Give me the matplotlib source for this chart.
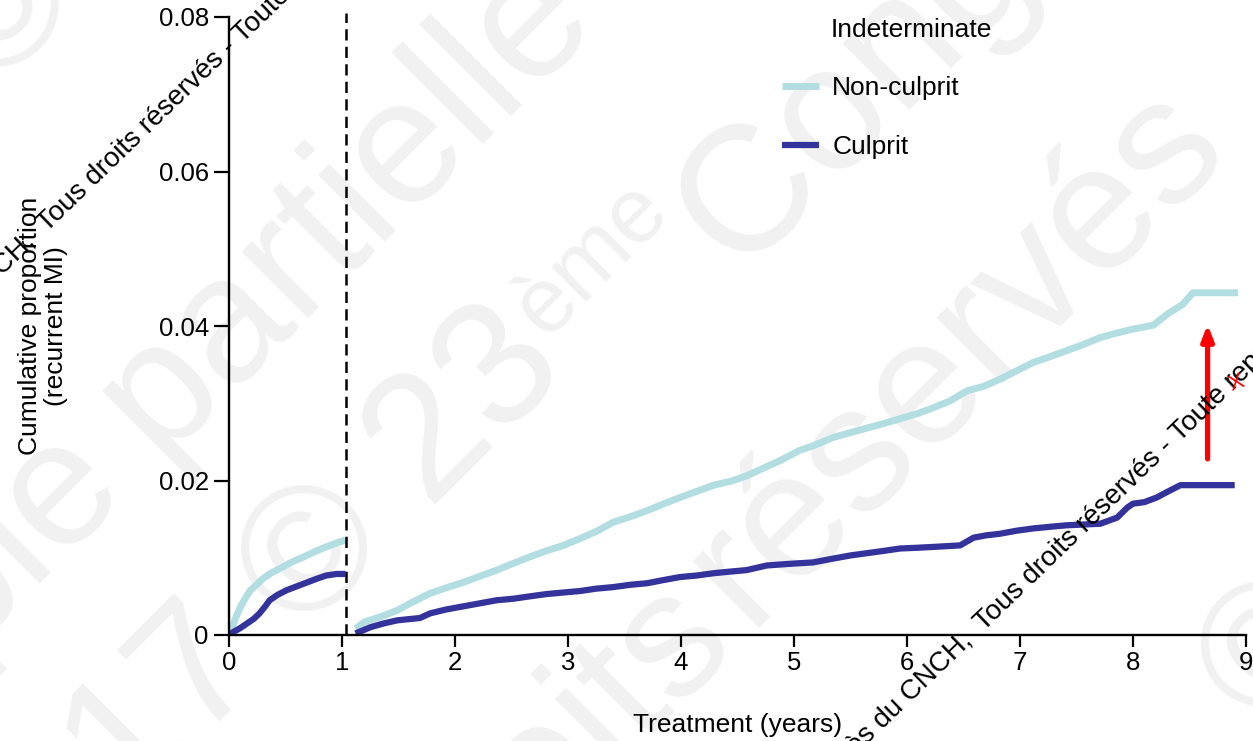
import matplotlib
matplotlib.use("Agg")
import matplotlib.pyplot as plt

# ── data ───────────────────────────────────────────────────────────────────
# first year (before the dashed line)
nc1_x = [0, 0.02, 0.05, 0.10, 0.15, 0.19, 0.25, 0.30, 0.37, 0.45, 0.55, 0.66, 0.76, 0.86, 0.95, 1.03]
nc1_y = [0, 0.0006, 0.0019, 0.0036, 0.0049, 0.0058, 0.0066, 0.0073, 0.0080, 0.0086, 0.0094,
         0.0101, 0.0108, 0.0114, 0.0119, 0.0123]
c1_x = [0, 0.04, 0.10, 0.16, 0.22, 0.27, 0.32, 0.36, 0.43, 0.51, 0.60, 0.69, 0.78, 0.86, 0.95, 1.03]
c1_y = [0, 0.0004, 0.0009, 0.0015, 0.0021, 0.0028, 0.0037, 0.0045, 0.0052, 0.0058, 0.0063,
        0.0068, 0.0073, 0.0077, 0.0079, 0.0079]

# after year one (restart from zero)
nc2_x = [1.12, 1.20, 1.35, 1.49, 1.63, 1.78, 1.92, 2.07, 2.22, 2.37, 2.52, 2.66, 2.81, 2.96,
         3.11, 3.25, 3.40, 3.55, 3.70, 3.85, 3.99, 4.14, 4.29, 4.44, 4.58, 4.73, 4.88, 5.05,
         5.17, 5.35, 5.50, 5.65, 5.80, 5.94, 6.10, 6.23, 6.38, 6.53, 6.68, 6.82, 6.97, 7.12,
         7.26, 7.41, 7.56, 7.71, 7.86, 8.00, 8.18, 8.30, 8.44, 8.53, 8.93]
nc2_y = [0.0008, 0.0017, 0.0024, 0.0032, 0.0043, 0.0054, 0.0061, 0.0068, 0.0076, 0.0084,
         0.0093, 0.0101, 0.0109, 0.0116, 0.0125, 0.0134, 0.0146, 0.0153, 0.0161, 0.0170,
         0.0178, 0.0186, 0.0194, 0.0199, 0.0206, 0.0216, 0.0226, 0.0239, 0.0245, 0.0256,
         0.0262, 0.0268, 0.0274, 0.0280, 0.0287, 0.0294, 0.0303, 0.0316, 0.0322, 0.0331,
         0.0342, 0.0353, 0.0360, 0.0368, 0.0376, 0.0385, 0.0391, 0.0396, 0.0401, 0.0415,
         0.0428, 0.0443, 0.0443]
c2_x = [1.12, 1.25, 1.37, 1.49, 1.69, 1.78, 1.92, 2.07, 2.22, 2.37, 2.52, 2.66, 2.81, 2.96,
        3.11, 3.25, 3.40, 3.55, 3.70, 3.84, 3.99, 4.14, 4.29, 4.43, 4.58, 4.76, 4.95, 5.17,
        5.35, 5.50, 5.65, 5.80, 5.94, 6.10, 6.23, 6.47, 6.59, 6.70, 6.82, 6.97, 7.12, 7.26,
        7.41, 7.56, 7.71, 7.86, 7.95, 8.00, 8.10, 8.21, 8.30, 8.42, 8.90]
c2_y = [0.0002, 0.0010, 0.0015, 0.0019, 0.0022, 0.0028, 0.0033, 0.0037, 0.0041, 0.0045,
        0.0047, 0.0050, 0.0053, 0.0055, 0.0057, 0.0060, 0.0062, 0.0065, 0.0067, 0.0071,
        0.0075, 0.0077, 0.0080, 0.0082, 0.0084, 0.0090, 0.0092, 0.0094, 0.0099, 0.0103,
        0.0106, 0.0109, 0.0112, 0.0113, 0.0114, 0.0116, 0.0126, 0.0129, 0.0131, 0.0135,
        0.0138, 0.0140, 0.0142, 0.0143, 0.0144, 0.0152, 0.0165, 0.0170, 0.0172, 0.0178,
        0.0185, 0.0194, 0.0194]

x_ticks = [0, 1, 2, 3, 4, 5, 6, 7, 8, 9]
y_ticks = [0, 0.02, 0.04, 0.06, 0.08]
y_tick_labels = ["0", "0.02", "0.04", "0.06", "0.08"]
landmark = 1.035

LIGHT = "#b2dee1"
DARK = "#33339b"
FAINT = "#f1f1f1"
W, H = 1253, 741

plt.rcParams["font.family"] = ["Liberation Sans", "DejaVu Sans"]

fig = plt.figure(figsize=(W / 100, H / 100), dpi=100)
ax = fig.add_axes([229 / W, 1 - 635 / H, 1017 / W, 618 / H])
ax.set_facecolor("none")


def px(x, y):
    return x / W, 1 - y / H


# ── faint background watermark ─────────────────────────────────────────────
wm = dict(color=FAINT, fontsize=128, rotation=45, rotation_mode="anchor",
          va="center", zorder=-5)
fig.text(*px(345, 205), "partielle", ha="center", **wm)
fig.text(*px(95, 455), "Copie", ha="right", **wm)
fig.text(*px(537, 338), "2017 © 23", ha="right", **wm)
fig.text(*px(528, 322), "ème", ha="left", color=FAINT, fontsize=66, rotation=45,
         rotation_mode="anchor", va="center", zorder=-5)
fig.text(*px(705, 240), "Congrès", ha="left", **wm)
fig.text(*px(715, 595), "réservés", ha="left", **wm)
fig.text(*px(705, 610), "droits", ha="right", **wm)
fig.text(*px(1228, 700), "©", ha="left", **wm)
fig.text(*px(-40, 60), "©", ha="left", **wm)

# ── curves ────────────────────────────────────────────────────────────────
ax.plot(nc1_x, nc1_y, color=LIGHT, lw=5, solid_capstyle="butt")
ax.plot(c1_x, c1_y, color=DARK, lw=4.5, solid_capstyle="butt")
l_nc, = ax.plot(nc2_x, nc2_y, color=LIGHT, lw=5, solid_capstyle="butt", label="Non-culprit")
l_c, = ax.plot(c2_x, c2_y, color=DARK, lw=4.5, solid_capstyle="butt", label="Culprit")

ax.plot([landmark, landmark], [0, 0.0805], color="black", lw=1.8,
        ls=(0, (4.5, 2.5)), clip_on=False)

# ── axes ──────────────────────────────────────────────────────────────────
ax.set_xlim(0, 9)
ax.set_ylim(0, 0.08)
ax.set_xticks(x_ticks)
ax.set_yticks(y_ticks)
ax.set_yticklabels(y_tick_labels)
for s in ["top", "right"]:
    ax.spines[s].set_visible(False)
for s in ["left", "bottom"]:
    ax.spines[s].set_linewidth(1.7)
ax.tick_params(axis="both", direction="out", width=1.6, labelsize=18.5)
ax.tick_params(axis="x", length=8.5, pad=3)
ax.tick_params(axis="y", length=10.5, pad=4)

ax.set_xlabel("Treatment (years)", fontsize=19)
ax.xaxis.set_label_coords(0.5, -0.126)
ax.set_ylabel("Cumulative proportion\n(recurrent MI)", fontsize=19, linespacing=1.1)
ax.yaxis.set_label_coords(-0.158, 0.5)

# legend
ax.text((831 - 229) / 1017, (635 - 30) / 618, "Indeterminate", transform=ax.transAxes,
        fontsize=19, ha="left", va="center")
ax.legend(handles=[l_nc, l_c], loc="upper left",
          bbox_to_anchor=((782 - 229) / 1017, (635 - 76) / 618),
          frameon=False, fontsize=19, handlelength=1.4, handletextpad=0.5,
          labelspacing=1.33, borderpad=0, borderaxespad=0)

# red arrow
ax.annotate("", xy=(8.66, 0.0402), xytext=(8.66, 0.0228),
            arrowprops=dict(arrowstyle="-|>,head_width=0.35,head_length=0.9",
                            color="#ff0000", lw=3.8, shrinkA=0, shrinkB=0))

# ── black diagonal overlay text ───────────────────────────────────────────
ov = dict(color="black", fontsize=20, rotation=44, rotation_mode="anchor", va="baseline")
fig.text(*px(984, 632), "Tous droits réservés - Toute reproduction interdite", ha="left", **ov)
fig.text(*px(979, 637), "Congrès du CNCH, ", ha="right", **ov)
fig.text(*px(1237, 383), "X", color="#ff0000", fontsize=16, rotation=20, ha="center",
         va="center")
fig.text(*px(47, 233), "Tous droits réservés - Toute reproduction", ha="left", **ov)
fig.text(*px(42, 238), "Congrès du CNCH, ", ha="right", **ov)

fig.savefig("out.png", dpi=100)
